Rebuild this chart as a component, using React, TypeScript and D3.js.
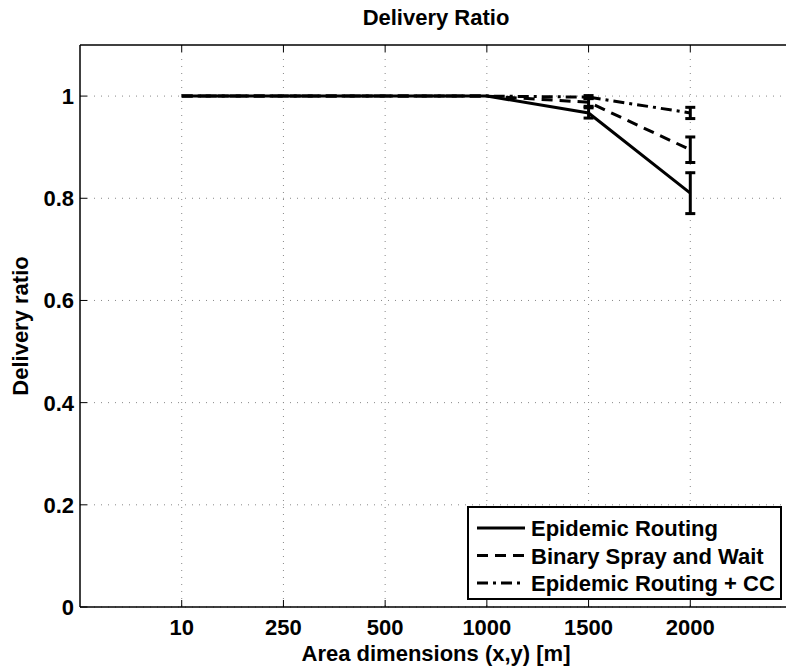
import React from "react";
import * as d3 from "d3";

const categories = ["10", "250", "500", "1000", "1500", "2000"];
const yTicks = [0, 0.2, 0.4, 0.6, 0.8, 1];
const seriesNames = ["Epidemic Routing", "Binary Spray and Wait", "Epidemic Routing + CC"];
const epidemic = [1, 1, 1, 1, 0.967, 0.81];
const epidemicErr = [0, 0, 0, 0, 0.01, 0.04];
const binary = [1, 1, 1, 1, 0.988, 0.895];
const binaryErr = [0, 0, 0, 0, 0.008, 0.025];
const cc = [1, 1, 1, 1, 0.998, 0.967];
const ccErr = [0, 0, 0, 0, 0.003, 0.011];

const W = 786;
const H = 668;
const M = { left: 80, right: 792, top: 45, bottom: 607 };
const FONT = "'Liberation Sans', Arial, Helvetica, sans-serif";
const FS = 22;

export default function App() {
  const x = d3.scaleLinear().domain([0, 7]).range([M.left, M.right]);
  const y = d3.scaleLinear().domain([0, 1.1]).range([M.bottom, M.top]);
  const series = [
    { name: seriesNames[0], vals: epidemic, err: epidemicErr, dash: "none" },
    { name: seriesNames[1], vals: binary, err: binaryErr, dash: "11,7" },
    { name: seriesNames[2], vals: cc, err: ccErr, dash: "11,5,3,5" },
  ];
  const line = d3
    .line<number>()
    .x((_, i) => x(i + 1))
    .y((d) => y(d));
  const capW = 5;

  return (
    <svg
      width={W}
      height={H}
      style={{ position: "absolute", left: 0, top: 0, background: "#fff" }}
      fontFamily={FONT}
    >
      <rect x={0} y={0} width={W} height={H} fill="#fff" />
      {/* grid */}
      {categories.map((c, i) => (
        <line
          key={"gx" + c}
          x1={x(i + 1)}
          x2={x(i + 1)}
          y1={M.top}
          y2={M.bottom}
          stroke="#888"
          strokeWidth={1}
          strokeDasharray="1,6"
        />
      ))}
      {yTicks.map((t) => (
        <line
          key={"gy" + t}
          x1={M.left}
          x2={W}
          y1={y(t)}
          y2={y(t)}
          stroke="#888"
          strokeWidth={1}
          strokeDasharray="1,6"
        />
      ))}
      {/* ticks */}
      {categories.map((c, i) => (
        <g key={"tx" + c}>
          <line x1={x(i + 1)} x2={x(i + 1)} y1={M.bottom} y2={M.bottom - 7} stroke="#000" />
          <line x1={x(i + 1)} x2={x(i + 1)} y1={M.top} y2={M.top + 7} stroke="#000" />
          <text
            x={x(i + 1)}
            y={M.bottom + 28}
            textAnchor="middle"
            fontSize={FS}
            fontWeight="bold"
          >
            {c}
          </text>
        </g>
      ))}
      {yTicks.map((t) => (
        <g key={"ty" + t}>
          <line x1={M.left} x2={M.left + 7} y1={y(t)} y2={y(t)} stroke="#000" />
          <text
            x={M.left - 6}
            y={y(t) + 8}
            textAnchor="end"
            fontSize={FS}
            fontWeight="bold"
          >
            {t === 0 || t === 1 ? String(t) : t.toFixed(1)}
          </text>
        </g>
      ))}
      {/* axes lines (right edge falls outside the picture) */}
      <line x1={M.left} x2={M.left} y1={M.top} y2={M.bottom} stroke="#000" strokeWidth={1.5} />
      <line x1={M.left} x2={W} y1={M.top} y2={M.top} stroke="#000" strokeWidth={1.5} />
      <line x1={M.left} x2={W} y1={M.bottom} y2={M.bottom} stroke="#000" strokeWidth={1.5} />
      {/* series */}
      {series.map((s) => (
        <g key={s.name}>
          <path
            d={line(s.vals) || ""}
            fill="none"
            stroke="#000"
            strokeWidth={3}
            strokeDasharray={s.dash}
          />
          {s.vals.map((v, i) =>
            s.err[i] > 0 ? (
              <g key={i} stroke="#000" strokeWidth={3}>
                <line x1={x(i + 1)} x2={x(i + 1)} y1={y(v - s.err[i])} y2={y(v + s.err[i])} />
                <line
                  x1={x(i + 1) - capW}
                  x2={x(i + 1) + capW}
                  y1={y(v - s.err[i])}
                  y2={y(v - s.err[i])}
                />
                <line
                  x1={x(i + 1) - capW}
                  x2={x(i + 1) + capW}
                  y1={y(v + s.err[i])}
                  y2={y(v + s.err[i])}
                />
              </g>
            ) : null
          )}
        </g>
      ))}
      {/* legend */}
      <g>
        <rect x={468} y={507} width={313} height={92} fill="#fff" stroke="#000" strokeWidth={2} />
        {series.map((s, i) => (
          <g key={"lg" + s.name} transform={`translate(0, ${528 + i * 27.5})`}>
            <line
              x1={477}
              x2={525}
              y1={0}
              y2={0}
              stroke="#000"
              strokeWidth={3}
              strokeDasharray={s.dash}
            />
            <text x={531} y={8} fontSize={FS} fontWeight="bold">
              {s.name}
            </text>
          </g>
        ))}
      </g>
      {/* titles */}
      <text x={(M.left + M.right) / 2} y={25} textAnchor="middle" fontSize={FS} fontWeight="bold">
        Delivery Ratio
      </text>
      <text x={(M.left + M.right) / 2} y={661} textAnchor="middle" fontSize={FS} fontWeight="bold">
        Area dimensions (x,y) [m]
      </text>
      <text
        transform={`translate(28, ${(M.top + M.bottom) / 2}) rotate(-90)`}
        textAnchor="middle"
        fontSize={FS}
        fontWeight="bold"
      >
        Delivery ratio
      </text>
    </svg>
  );
}
